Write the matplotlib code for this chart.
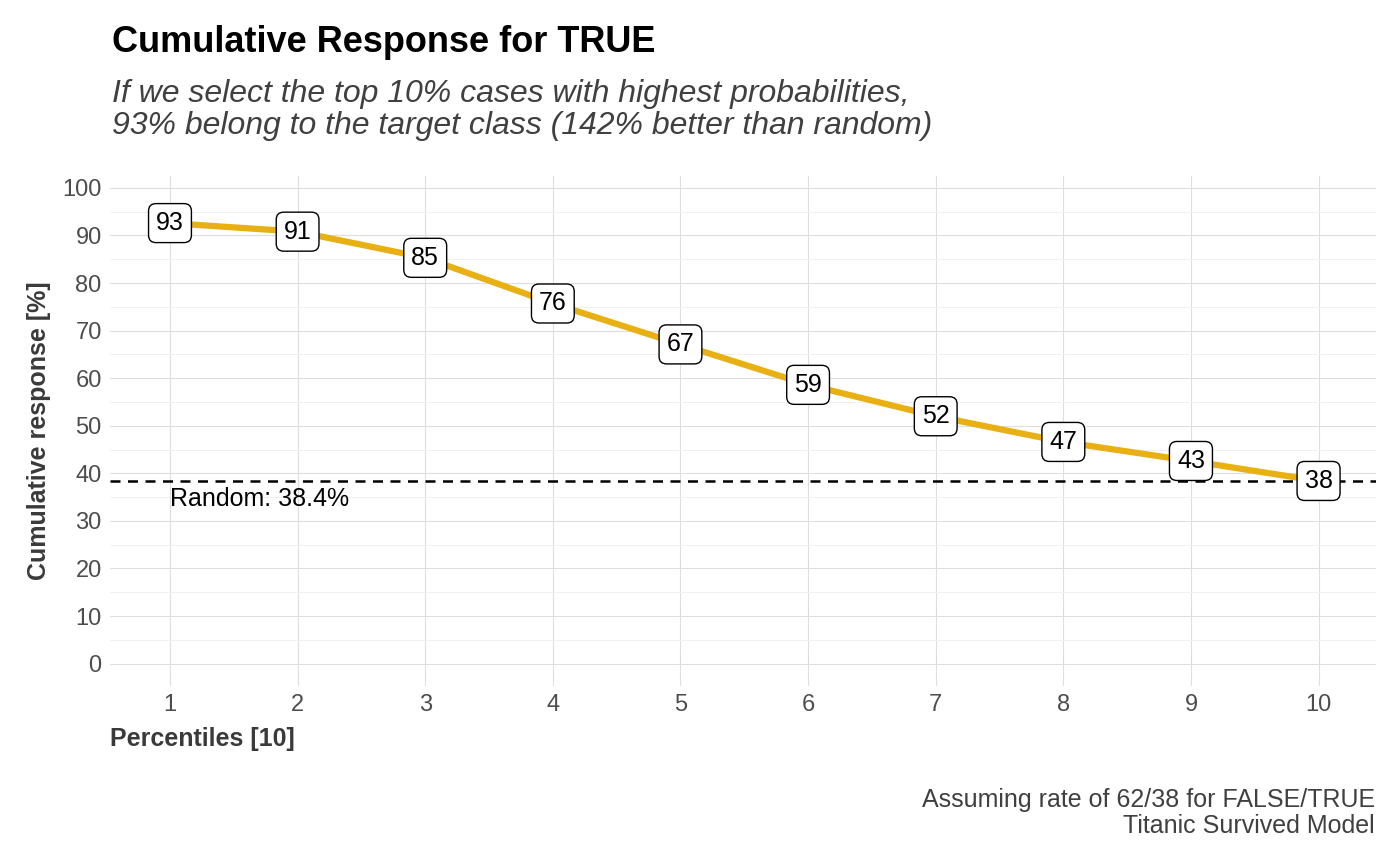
import matplotlib
matplotlib.use("Agg")
import matplotlib.pyplot as plt

percentiles = [1, 2, 3, 4, 5, 6, 7, 8, 9, 10]
cumresp = [92.6, 90.8, 85.3, 75.7, 67.1, 58.6, 52.0, 46.6, 42.6, 38.4]
random_rate = 38.4
yticks = list(range(0, 101, 10))

plt.rcParams['font.family'] = ['Liberation Sans', 'DejaVu Sans']
fig = plt.figure(figsize=(14, 8.66), dpi=100)
ax = fig.add_axes([110/1400, 1-686/866, (1376-110)/1400, (686-176)/866])
ax.set_xlim(0.53, 10.45)
ax.set_ylim(-4.7, 102.5)
ax.set_yticks(yticks)
ax.set_yticks([y+5 for y in yticks[:-1]], minor=True)
ax.set_xticks(percentiles)
ax.grid(which='major', color='#dedede', lw=0.8)
ax.grid(which='minor', axis='y', color='#f0f0f0', lw=0.7)
ax.set_axisbelow(True)
for s in ax.spines.values():
    s.set_visible(False)
ax.tick_params(which='both', length=0, labelsize=17, labelcolor='#4d4d4d', pad=6)

ax.plot(percentiles, cumresp, color='#E8B012', lw=4.5, solid_capstyle='round')
ax.axhline(random_rate, color='black', ls=(0, (4, 3)), lw=1.8)
ax.text(1, random_rate-1.3, f"Random: {random_rate}%", fontsize=18, va='top', ha='left')
for x, y in zip(percentiles, cumresp):
    ax.text(x, y, f"{round(y)}", fontsize=18, ha='center', va='center',
            bbox=dict(boxstyle='round,pad=0.3,rounding_size=0.3', fc='white', ec='black', lw=1))

ax.set_xlabel("Percentiles [10]", fontsize=18, fontweight='bold', color='#3a3a3a', loc='left', labelpad=8)
ax.set_ylabel("Cumulative response [%]", fontsize=18, fontweight='bold', color='#3a3a3a', labelpad=8)

fig.text(112/1400, 1-42/866, "Cumulative Response for TRUE", fontsize=26, fontweight='bold', va='center')
fig.text(112/1400, 1-110/866, "If we select the top 10% cases with highest probabilities,\n93% belong to the target class (142% better than random)",
         fontsize=23, style='italic', color='#404040', va='center', linespacing=1.05)
fig.text(1375/1400, 1-813/866, "Assuming rate of 62/38 for FALSE/TRUE\nTitanic Survived Model",
         fontsize=18, color='#404040', ha='right', va='center', linespacing=1.1)
fig.savefig("out.png", dpi=100)
